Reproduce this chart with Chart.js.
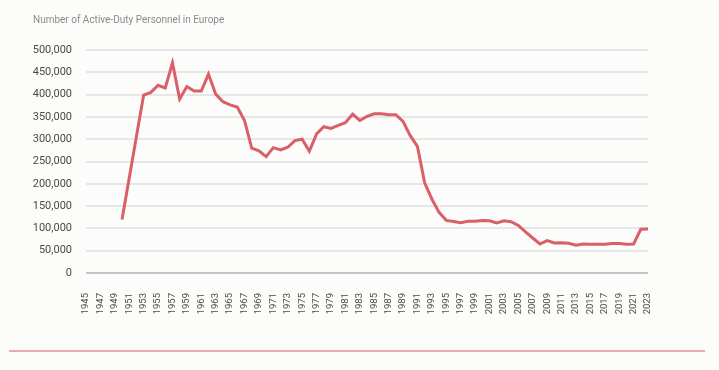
<!DOCTYPE html>
<html>
<head>
<meta charset="utf-8">
<script src="https://cdn.jsdelivr.net/npm/chart.js@4.4.1/dist/chart.umd.min.js"></script>
<style>
  body { margin: 0; background: #fcfcfa; }
  .wrap { position: relative; width: 719px; height: 370px; }
  .rule { position: absolute; left: 9px; top: 350px; width: 696px; height: 2px; background: #e8abb0; }
</style>
</head>
<body>
<div class="wrap">
  <canvas id="chart" width="719" height="370"></canvas>
  <div class="rule"></div>
</div>
<script>
const years = [];
for (let y = 1945; y <= 2023; y++) years.push(String(y));

// active-duty personnel, 1945-2023 (no data before 1950)
const personnel = [
  null, null, null, null, null,
  120000, 213000, 306000, 399000, 405000, 421000, 415000, 471000, 390000, 418000,
  408000, 408000, 446000, 401000, 384000, 377000, 372000, 342000, 280000, 274000,
  261000, 281000, 276000, 282000, 297000, 300000, 273000, 312000, 328000, 324000,
  331000, 337000, 356000, 342000, 351000, 357000, 357000, 355000, 355000, 340000,
  308000, 284000, 202000, 166000, 136000, 118000, 115500, 112500, 116000, 116000,
  117500, 117000, 112000, 117000, 115000, 106500, 92000, 78500, 65000, 72500,
  67500, 68000, 66500, 62500, 65000, 64500, 64500, 64500, 66000, 66000,
  64500, 65000, 98000, 98500
];

const yTicks = [0, 50000, 100000, 150000, 200000, 250000, 300000, 350000, 400000, 450000, 500000];

new Chart(document.getElementById("chart"), {
  type: "line",
  data: {
    labels: years,
    datasets: [{
      data: personnel,
      borderColor: "#db5f68",
      borderWidth: 3,
      pointRadius: 0,
      tension: 0,
      spanGaps: false,
    }],
  },
  options: {
    responsive: false,
    animation: false,
    layout: { padding: { left: 33, right: 71, top: 0, bottom: 0 } },
    plugins: {
      legend: { display: false },
      tooltip: { enabled: false },
      title: {
        display: true,
        text: "Number of Active-Duty Personnel in Europe",
        align: "start",
        color: "#8a8a8a",
        font: { family: "Roboto", size: 10, weight: "normal" },
        padding: { top: 14, bottom: 24 },
      },
    },
    scales: {
      x: {
        offset: false,
        grid: { display: false },
        border: { display: false },
        ticks: {
          autoSkip: false,
          maxRotation: 90,
          minRotation: 90,
          padding: 12,
          color: "#4a4a4a",
          font: { family: "Roboto", size: 9.5 },
          callback: (v, i) => (i % 2 === 0 ? years[i] : ""),
        },
        afterFit: (scale) => { scale.height = 97; },
      },
      y: {
        min: 0,
        max: 500000,
        afterBuildTicks: (scale) => { scale.ticks = yTicks.map((v) => ({ value: v })); },
        border: { display: false },
        grid: {
          drawTicks: false,
          lineWidth: 2,
          color: (ctx) => (ctx.tick.value === 0 ? "#c6c6c6" : "#e7e7e7"),
        },
        ticks: {
          padding: 14,
          color: "#4a4a4a",
          font: { family: "Roboto", size: 11 },
          callback: (v) => v.toLocaleString("en-US"),
        },
        afterFit: (scale) => { scale.width = 53; },
      },
    },
  },
});
</script>
</body>
</html>
